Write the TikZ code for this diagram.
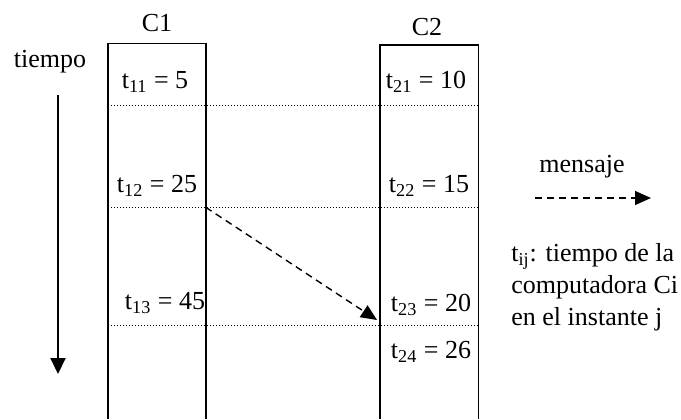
\documentclass[tikz,border=0pt]{standalone}
\usepackage{fontspec}
\setmainfont{Liberation Serif}
\usetikzlibrary{arrows.meta}

\begin{document}
\begin{tikzpicture}[x=0.5pt, y=-0.5pt,
    txt/.style={font=\fontsize{13}{16}\selectfont, inner sep=0pt},
    caja/.style={line width=0.8pt},
    marca/.style={line width=0.6pt, dash pattern=on 0.7pt off 0.8pt},
    msg/.style={line width=0.7pt, dash pattern=on 3.5pt off 2.5pt, -{Triangle[length=8pt,width=7pt]}}]
  \useasboundingbox (0,0) rectangle (681,419);

  % computadoras
  \node[txt] (c1) at (157,23) {C1};
  \node[txt] (c2) at (427,27) {C2};
  \draw[caja] (107.7,419) |- (205.7,43.3) -- (205.7,419);
  \draw[caja] (380,419) |- (478.3,45) -- (478.3,419);

  % eje del tiempo
  \node[txt] (tiempo) at (50,62) {tiempo};
  \coordinate (ini) at (58,95);
  \coordinate (fin) at (58,374);
  \draw[line width=1pt, -{Triangle[length=8pt,width=7.5pt]}] (ini) -- (fin);

  % instantes
  \foreach \y in {105.7, 207.3, 325.7}
    \draw[marca] (108,\y) -- (478,\y);

  \node[txt] (t11) at (155,82) {t\textsubscript{11} = 5};
  \node[txt] (t12) at (157,186) {t\textsubscript{12} = 25};
  \node[txt] (t13) at (165,303) {t\textsubscript{13} = 45};
  \node[txt] (t21) at (426,82) {t\textsubscript{21} = 10};
  \node[txt] (t22) at (429,186) {t\textsubscript{22} = 15};
  \node[txt] (t23) at (431,305) {t\textsubscript{23} = 20};
  \node[txt] (t24) at (431,352) {t\textsubscript{24} = 26};

  % mensaje
  \coordinate (envio) at (205.7,207.3);
  \coordinate (recibo) at (377,320);
  \draw[msg] (envio) -- (recibo);

  % leyenda
  \node[txt] (mensaje) at (582,167) {mensaje};
  \coordinate (ley1) at (535,198);
  \coordinate (ley2) at (651,198);
  \draw[msg] (ley1) -- (ley2);
  \node[txt, anchor=north west, align=left] (nota) at (511,243)
    {t\textsubscript{ij}: tiempo de la\\computadora Ci\\en el instante j};
\end{tikzpicture}
\end{document}
